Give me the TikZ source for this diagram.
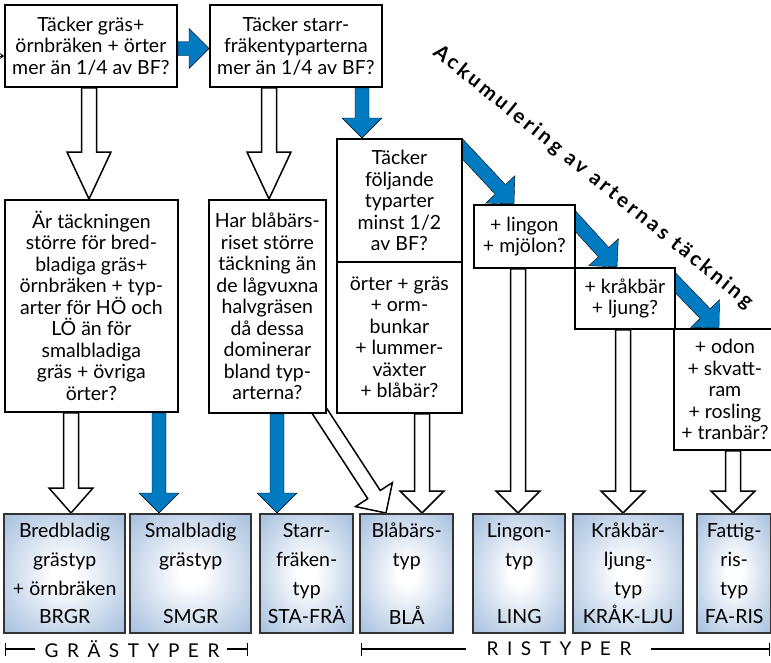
\documentclass[tikz,border=0pt]{standalone}
\usepackage{fontspec}
\setmainfont{Lato}
\newfontfamily\spacedfont[LetterSpace=45]{Lato}
\newfontfamily\accfont[LetterSpace=15]{Lato}
\usetikzlibrary{calc,arrows.meta,backgrounds}
\definecolor{arrowblue}{RGB}{0,123,194}
\definecolor{typeblue}{RGB}{122,160,206}
\pgfdeclareradialshading{typeshade}{\pgfpoint{0bp}{0bp}}{color(0bp)=(white); color(5bp)=(white); color(50bp)=(typeblue); color(72bp)=(typeblue)}
\def\fatarrow[#1](#2)(#3)(#4:#5:#6){\draw[#1] let \p1=(#2), \p2=(#3), \n1={atan2(\y2-\y1,\x2-\x1)}, \n2={veclen(\x2-\x1,\y2-\y1)} in [shift={(\p1)}, rotate=\n1] (0,#4) -- ({\n2-#6},#4) -- ({\n2-#6},#5) -- (\n2,0) -- ({\n2-#6},-#5) -- ({\n2-#6},-#4) -- (0,-#4) -- cycle;}
\tikzset{
  qbox/.style={draw, line width=1.8pt, fill=white, align=center, inner sep=0pt, anchor=north west, font=\fontsize{19.5}{21.5}\selectfont},
  typebox/.style={draw=black!80, line width=2.4pt, shading=typeshade, align=center, inner sep=0pt, anchor=north west, font=\fontsize{19.5}{28.7}\selectfont},
  bluearrow/.style={fill=arrowblue},
  whitearrow/.style={fill=white, draw=black, line width=1.5pt, line join=miter},
  bracket/.style={line width=1.2pt},
  grouplabel/.style={inner sep=0pt, font=\spacedfont\fontsize{19}{20}\selectfont}
}

\begin{document}
\begin{tikzpicture}[x=1pt,y=-1pt]
			%%%%% START %%%%%
			\useasboundingbox (0,0) rectangle (771,662);
			
			\node[qbox, minimum width=172pt, minimum height=82pt] (A) at (4,4) {Täcker gräs+\\örnbräken + örter\\mer än 1/4 av BF?};
			\node[qbox, minimum width=172pt, minimum height=82pt] (B) at (209,4) {Täcker starr-\\fräkentyparterna\\mer än 1/4 av BF?};
			\node[qbox, minimum width=173pt, minimum height=212pt] (C) at (4,199) {Är täckningen\\större för bred-\\bladiga gräs+\\örnbräken + typ-\\arter för HÖ och\\LÖ än för\\smalbladiga\\gräs + övriga\\örter?};
			\node[qbox, minimum width=117pt, minimum height=213pt] (E) at (208,199) {Har blåbärs-\\riset större\\täckning än\\de lågvuxna\\halvgräsen\\då dessa\\dominerar\\bland typ-\\arterna?};
			\node[qbox, minimum width=125pt, minimum height=123pt] (D1) at (336,138) {Täcker\\följande\\typarter\\minst 1/2\\av BF?};
			\node[qbox, minimum width=125pt, minimum height=151pt] (D2) at (336,261) {örter + gräs\\+ orm-\\bunkar\\+ lummer-\\växter\\+ blåbär?};
			\node[qbox, minimum width=101pt, minimum height=63pt] (F) at (473,204) {+ lingon\\+ mjölon?};
			\node[qbox, minimum width=100pt, minimum height=61pt] (G) at (574,267) {+ kråkbär\\+ ljung?};
			\node[qbox, minimum width=102pt, minimum height=121pt] (H) at (673,328) {+ odon\\+ skvatt-\\ram\\+ rosling\\+ tranbär?};
			
			\node[typebox, minimum width=121pt, minimum height=119pt] (brgr) at (3,513) {Bredbladig\\grästyp\\+ örnbräken\\BRGR};
			\node[typebox, minimum width=121pt, minimum height=119pt] (smgr) at (129,513) {Smalbladig\\grästyp\\~\\SMGR};
			\node[typebox, minimum width=93pt, minimum height=119pt] (stafra) at (259,513) {Starr-\\fräken-\\typ\\STA-FRÄ};
			\node[typebox, minimum width=93pt, minimum height=119pt] (bla) at (359,513) {Blåbärs-\\typ\\~\\BLÅ};
			\node[typebox, minimum width=92pt, minimum height=119pt] (ling) at (472,513) {Lingon-\\typ\\~\\LING};
			\node[typebox, minimum width=110pt, minimum height=119pt] (kraklju) at (572,513) {Kråkbär-\\ljung-\\typ\\KRÅK-LJU};
			\node[typebox, minimum width=74pt, minimum height=119pt] (faris) at (696,513) {Fattig-\\ris-\\typ\\FA-RIS};
			
			\begin{scope}[on background layer]
			\fatarrow[bluearrow](A.east |- 0,48.5)(B.west |- 0,48.5)(7:20:20)
			\fatarrow[whitearrow](A.south -| 89,0)(C.north -| 89,0)(7.5:22:47)
			\fatarrow[whitearrow](B.south -| 269,0)(E.north -| 269,0)(7.5:22:47)
			\fatarrow[bluearrow](B.south -| 362,0)(D1.north -| 362,0)(7:20:20)
			\fatarrow[bluearrow]($(D1.north east)+(-6,5)$)(F.north -| 514,0)(7:20:20)
			\fatarrow[bluearrow]($(F.north east)+(-6,11)$)(G.north -| 617,0)(7:20:20)
			\fatarrow[bluearrow]($(G.north east)+(-6,10)$)(H.north -| 719,0)(7:20:20)
			\fatarrow[whitearrow](C.south -| 71,0)(brgr.north -| 71,0)(7.5:22:25)
			\fatarrow[bluearrow](C.south -| 159,0)(smgr.north -| 159,0)(7:20:20)
			\fatarrow[bluearrow](E.south -| 277,0)(stafra.north -| 277,0)(7:20:20)
			\fatarrow[whitearrow]($(E.south east)+(-12,-10)$)(bla.north -| 386,0)(7.5:22:22)
			\fatarrow[whitearrow](D2.south -| 422,0)(bla.north -| 422,0)(7.5:22:22)
			\fatarrow[whitearrow](F.south -| 518,0)(ling.north -| 518,0)(7.5:22:22)
			\fatarrow[whitearrow](G.south -| 623,0)(kraklju.north -| 623,0)(7.5:22:22)
			\fatarrow[whitearrow](H.south -| 733,0)(faris.north -| 733,0)(7.5:22:22)
			\end{scope}
			
			\coordinate (in) at (-4,56);
			\draw[line width=1pt, -{Stealth[length=4pt,width=6pt]}] (in) -- (A.west |- in);
			
			\node[rotate=-39, font=\accfont\bfseries\fontsize{20.5}{22}\selectfont] (acc) at (593,177) {Ackumulering av arternas täckning};
			
			\node[grouplabel] (gras) at (132,649) {GRÄSTYPER};
			\node[grouplabel] (ris) at (559,649) {RISTYPER};
			\coordinate (gl) at (5,649);
			\coordinate (gr) at (248,649);
			\coordinate (rl) at (361,649);
			\coordinate (rr) at (770,649);
			\draw[bracket, {Bar[width=13pt]}-] (gl) -- ([xshift=-9pt]gras.west);
			\draw[bracket, -{Bar[width=13pt]}] ([xshift=7pt]gras.east) -- (gr);
			\draw[bracket, {Bar[width=13pt]}-] (rl) -- ([xshift=-20pt]ris.west);
			\draw[bracket, -{Bar[width=13pt]}] ([xshift=19pt]ris.east) -- (rr);
			%%%%% END %%%%%
		\end{tikzpicture}
\end{document}
